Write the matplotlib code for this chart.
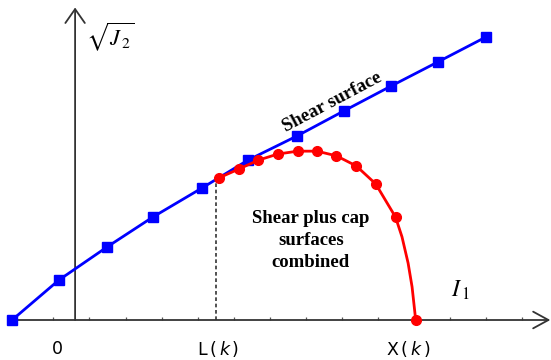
import matplotlib
matplotlib.use("Agg")
import matplotlib.pyplot as plt
from matplotlib.lines import TICKUP

# ---- data (units: one x-axis tick spacing) ----
shear_x = [-0.15, 1.15, 2.49, 3.76, 5.13, 6.40, 7.76, 9.07, 10.38, 11.68, 13.01]
shear_y = [0.00, 1.11, 2.03, 2.86, 3.67, 4.44, 5.11, 5.81, 6.50, 7.17, 7.86]

cap_x = [5.60, 6.14, 6.69, 7.23, 7.78, 8.32, 8.86, 9.41, 9.95, 10.50, 11.06]
cap_y = [3.95, 4.19, 4.44, 4.61, 4.69, 4.69, 4.56, 4.28, 3.78, 2.86, 0.00]

# points read along the cap curve between the last two markers
cap_line_x = cap_x[:10] + [10.68, 10.85, 10.96, 11.03, 11.06]
cap_line_y = cap_y[:10] + [2.31, 1.58, 0.92, 0.28, 0.00]

L_k = 5.51
L_top = 3.86
y_axis_x = 1.60
tick_x = list(range(1, 15))

x_labels = ["0", r"L$\,(\,k\,)$", r"X$\,(\,k\,)$"]
x_label_pos = [1.12, 5.57, 10.85]

fig = plt.figure(figsize=(5.51, 3.60), dpi=100)
ax = fig.add_axes([0, 0, 1, 1])
ax.set_xlim(-0.486, 14.819)
ax.set_ylim(-1.111, 8.889)
ax.axis("off")

axis_col = "#333333"
# horizontal axis with open arrow
ax.annotate("", xy=(14.80, 0), xytext=(-0.22, 0),
            arrowprops=dict(arrowstyle="->,head_length=1.1,head_width=0.6",
                            lw=1.3, color=axis_col, shrinkA=0, shrinkB=0))
# vertical axis with open arrow
ax.annotate("", xy=(y_axis_x, 8.68), xytext=(y_axis_x, 0),
            arrowprops=dict(arrowstyle="->,head_length=1.0,head_width=0.7",
                            lw=1.3, color=axis_col, shrinkA=0, shrinkB=0))
# small ticks
ax.plot(tick_x, [0] * len(tick_x), ls="none", marker=TICKUP, ms=2.2,
        mew=0.9, color="#555555")

# dashed line at L(k)
ax.plot([L_k, L_k], [0, L_top], ls=(0, (2.2, 1.6)), lw=1.2, color=axis_col)

# shear surface
ax.plot(shear_x, shear_y, color="#0000ff", lw=2.0, marker="s", ms=6.5,
        zorder=3)
# cap surface
ax.plot(cap_line_x, cap_line_y, color="#ff0000", lw=2.0, zorder=4)
ax.plot(cap_x, cap_y, ls="none", color="#ff0000", marker="o", ms=7,
        zorder=5)

serif = "Liberation Serif"
ax.text(8.74, 6.06, "Shear surface", family=serif, weight="bold",
        fontsize=13.5, rotation=28, rotation_mode="anchor",
        ha="center", va="center")
ax.text(8.15, 2.20, "Shear plus cap\nsurfaces\ncombined", family=serif,
        weight="bold", fontsize=13.5, ha="center", va="center",
        linespacing=1.38)

ax.text(2.57, 7.86, r"$\sqrt{J_{\,2}}$", fontsize=16, math_fontfamily="stix",
        ha="center", va="center")
ax.text(12.30, 0.83, r"$I_{\,1}$", fontsize=17, math_fontfamily="stix",
        ha="center", va="center")

for lab, xp in zip(x_labels, x_label_pos):
    ax.text(xp, -0.81, lab, fontsize=12.5, family="DejaVu Sans",
            math_fontfamily="dejavusans", ha="center", va="center")

fig.savefig("out.png", dpi=100)
